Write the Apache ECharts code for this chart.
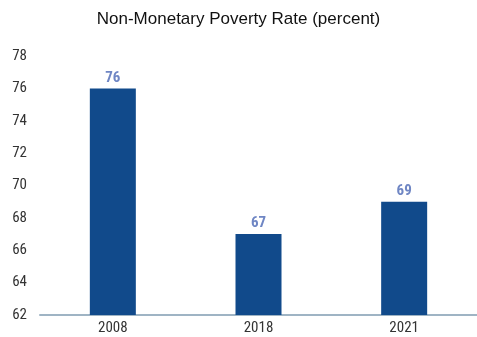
<!DOCTYPE html>
<html>
<head>
<meta charset="utf-8">
<script src="https://cdn.jsdelivr.net/npm/echarts@6/dist/echarts.min.js"></script>
<style>html,body{margin:0;padding:0;background:#fff}#chart{width:477px;height:337px}</style>
</head>
<body>
<div id="chart"></div>
<script>
const years = ['2008', '2018', '2021'];
const povertyRate = [76, 67, 69];
const yTicks = [62, 64, 66, 68, 70, 72, 74, 76, 78];

const condensed = '"Liberation Sans Narrow", "Roboto Condensed", "DejaVu Sans Condensed", sans-serif';
const chart = echarts.init(document.getElementById('chart'));
chart.setOption({
  animation: false,
  title: {
    text: 'Non-Monetary Poverty Rate (percent)',
    left: 'center',
    top: 6,
    textStyle: { fontFamily: 'Arial, "Liberation Sans", sans-serif', fontSize: 17, fontWeight: 'normal', color: '#111' }
  },
  grid: { left: 40, right: 0, top: 56, bottom: 22 },
  xAxis: {
    type: 'category',
    data: years,
    axisLine: { lineStyle: { color: '#9fb4c4', width: 2 } },
    axisTick: { show: false },
    axisLabel: { fontFamily: condensed, fontSize: 15, color: '#333', margin: 6 }
  },
  yAxis: {
    type: 'value',
    min: yTicks[0],
    max: yTicks[yTicks.length - 1],
    interval: 2,
    splitLine: { show: false },
    axisLine: { show: false },
    axisTick: { show: false },
    axisLabel: { fontFamily: condensed, fontSize: 15, color: '#333', margin: 13 }
  },
  series: [{
    type: 'bar',
    data: povertyRate,
    barWidth: 46,
    itemStyle: { color: '#114a8b' },
    label: {
      show: true,
      position: 'top',
      distance: 3,
      fontFamily: condensed,
      fontSize: 15,
      fontWeight: 'bold',
      color: '#6f86c4'
    }
  }]
});
</script>
</body>
</html>
